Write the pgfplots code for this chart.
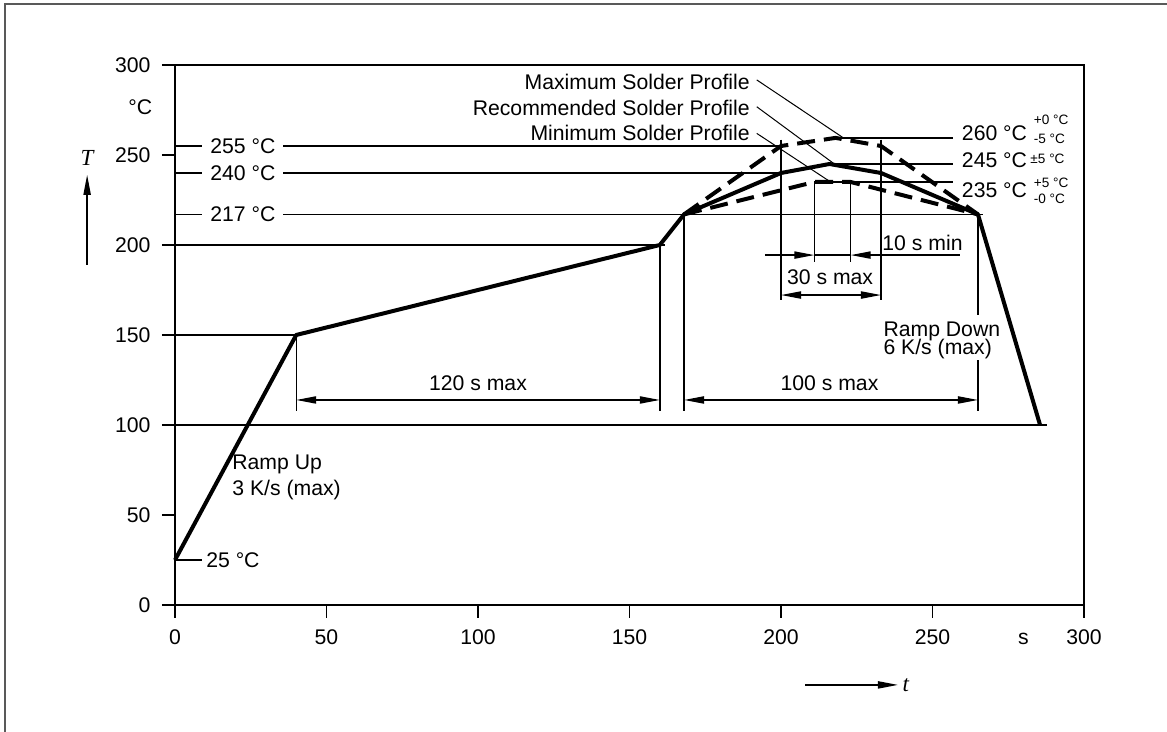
\documentclass[border=0pt]{standalone}
\usepackage{fontspec}
\setmainfont{Liberation Sans}
\newfontfamily\serifit{Liberation Serif}
\usepackage{pgfplots}
\pgfplotsset{compat=1.18}
\usetikzlibrary{arrows.meta}

\pgfplotstableread{
x y
0 25
40 150
160 200
168 217
200 240
216 245
233 240
265 217
285.5 100
}\recprofile

\pgfplotstableread{
x y
168 217
200 255
218 259.5
233 255
265 217
}\maxprofile

\pgfplotstableread{
x y
168 217
211 235
223 235
265 217
}\minprofile

\begin{document}
\fontsize{10.6}{12.7}\selectfont
\begin{tikzpicture}[
  thin line/.style={line width=0.7pt},
  tip/.tip={Triangle[length=10pt,width=3.6pt]},
  dim/.style={line width=0.7pt,-tip},
  dimboth/.style={line width=0.7pt,tip-tip},
  lbl/.style={inner sep=0pt},
  small/.style={inner sep=0pt,font=\fontsize{6.8}{8}\selectfont},
]
\path[use as bounding box] (-87.5pt,-63.5pt) rectangle (496pt,302.5pt);
\draw[black!65, line width=1pt] (-85pt,-63.5pt) -- (-85pt,300.5pt) -- (496pt,300.5pt);
\begin{axis}[
  at={(0pt,0pt)}, anchor=south west,
  scale only axis, width=454.5pt, height=270pt,
  xmin=0, xmax=300, ymin=0, ymax=300,
  clip=false,
  axis line style={line width=0.7pt},
  tick style={black, line width=0.7pt},
  tick align=outside, major tick length=6.5pt,
  xtick pos=left, ytick pos=left,
  xtick={0,50,...,300}, ytick={0,50,...,300},
  /pgf/number format/assume math mode=true,
  ticklabel style={font=\fontsize{10.6}{12.7}\selectfont},
  yticklabel style={xshift=-2pt},
  xticklabel style={yshift=-2pt},
]
% guide lines
\draw[thin line] (axis cs:0,100) -- (axis cs:287.7,100);
\draw[thin line] (axis cs:0,150) -- (axis cs:40,150);
\draw[thin line] (axis cs:0,200) -- (axis cs:161.7,200);
\draw[thin line] (axis cs:0,217) -- (axis cs:266.7,217);
\draw[thin line] (axis cs:0,240) -- (axis cs:200,240);
\draw[thin line] (axis cs:0,255) -- (axis cs:200,255);
\draw[thin line] (axis cs:0,25) -- (axis cs:8.9,25);
\draw[thin line] (axis cs:219,259.5) -- (axis cs:256.8,259.5);
\draw[thin line] (axis cs:216,245) -- (axis cs:256.8,245);
\draw[thin line] (axis cs:211,235) -- (axis cs:256.8,235);
% vertical extension lines
\draw[thin line] (axis cs:40,150) -- (axis cs:40,107.5);
\draw[thin line] (axis cs:160,200) -- (axis cs:160,107.5);
\draw[thin line] (axis cs:168,217) -- (axis cs:168,107.5);
\draw[thin line] (axis cs:265,217) -- (axis cs:265,161);
\draw[thin line] (axis cs:265,136) -- (axis cs:265,107.5);
\draw[thin line] (axis cs:200,258.5) -- (axis cs:200,169.5);
\draw[thin line] (axis cs:233,258.5) -- (axis cs:233,169.5);
\draw[thin line] (axis cs:211,235) -- (axis cs:211,190.5);
\draw[thin line] (axis cs:223,235) -- (axis cs:223,190.5);
% dimension arrows
\draw[dimboth] (axis cs:40,113.9) -- (axis cs:160,113.9);
\draw[dimboth] (axis cs:168,113.9) -- (axis cs:265,113.9);
\draw[dimboth] (axis cs:200,172.2) -- (axis cs:233,172.2);
\draw[dim] (axis cs:194.7,194.4) -- (axis cs:211,194.4);
\draw[dim] (axis cs:259,194.4) -- (axis cs:223,194.4);
\draw[thin line] (axis cs:211,194.4) -- (axis cs:223,194.4);
% leader lines
\draw[line width=0.5pt] (axis cs:192,291.7) -- (axis cs:220.6,259.5);
\draw[line width=0.5pt] (axis cs:192,276.8) -- (axis cs:217.3,245.4);
\draw[line width=0.5pt] (axis cs:192,262) -- (axis cs:216.2,235.2);
% profiles
\addplot[black, line width=2pt, line join=round] table[x=x,y=y] {\recprofile};
\addplot[black, line width=2pt, dash pattern=on 9pt off 4.5pt] table[x=x,y=y] {\maxprofile};
\addplot[black, line width=2pt, dash pattern=on 9pt off 4.5pt] table[x=x,y=y] {\minprofile};
% left labels
\node[fill=white, inner xsep=4pt, inner ysep=1pt] at (axis cs:22.4,255) {255 °C};
\node[fill=white, inner xsep=4pt, inner ysep=1pt] at (axis cs:22.4,240) {240 °C};
\node[fill=white, inner xsep=4pt, inner ysep=1pt] at (axis cs:22.4,217) {217 °C};
\node[lbl, anchor=west] at (axis cs:10.2,25) {25 °C};
\node[lbl, anchor=east] at (axis cs:-7.4,276.8) {°C};
% axis symbols
\draw[dim] (axis cs:-29,189) -- (axis cs:-29,239);
\node[lbl] at (axis cs:-29,248.5) {\fontsize{11.5}{13}\selectfont\serifit\itshape T};
\draw[dim] (axis cs:208,-44.4) -- (axis cs:238.6,-44.4);
\node[lbl, anchor=west] at (axis cs:240,-44.4) {\fontsize{11.5}{13}\selectfont\serifit\itshape t};
\node[lbl, anchor=base] at (axis cs:280,-22.2) {s};
% profile labels
\node[lbl, anchor=base east] at (axis cs:189.8,286.4) {Maximum Solder Profile};
\node[lbl, anchor=base east] at (axis cs:189.8,272.2) {Recommended Solder Profile};
\node[lbl, anchor=base east] at (axis cs:189.8,257.8) {Minimum Solder Profile};
% right labels
\node[lbl, anchor=west] at (axis cs:259.6,262.3) {260 °C};
\node[small, anchor=west] at (axis cs:283.3,269.3) {+0 °C};
\node[small, anchor=west] at (axis cs:283.3,259.1) {-5 °C};
\node[lbl, anchor=west] at (axis cs:259.6,246.9) {245 °C};
\node[small, anchor=west] at (axis cs:282.2,247.6) {±5 °C};
\node[lbl, anchor=west] at (axis cs:259.6,230.4) {235 °C};
\node[small, anchor=west] at (axis cs:283.3,234.6) {+5 °C};
\node[small, anchor=west] at (axis cs:283.3,225.7) {-0 °C};
% dimension texts
\node[lbl, anchor=base] at (axis cs:100,118.9) {120 s max};
\node[lbl, anchor=base] at (axis cs:216,118.9) {100 s max};
\node[lbl, anchor=base] at (axis cs:216.2,177.8) {30 s max};
\node[lbl, anchor=base] at (axis cs:246.7,197.2) {10 s min};
\node[lbl, anchor=base west] at (axis cs:233.7,149.4) {Ramp Down};
\node[lbl, anchor=base west] at (axis cs:233.7,138.9) {6 K/s (max)};
\node[lbl, anchor=base west] at (axis cs:18.8,75) {Ramp Up};
\node[lbl, anchor=base west] at (axis cs:18.8,60.6) {3 K/s (max)};
\end{axis}
\end{tikzpicture}
\end{document}
